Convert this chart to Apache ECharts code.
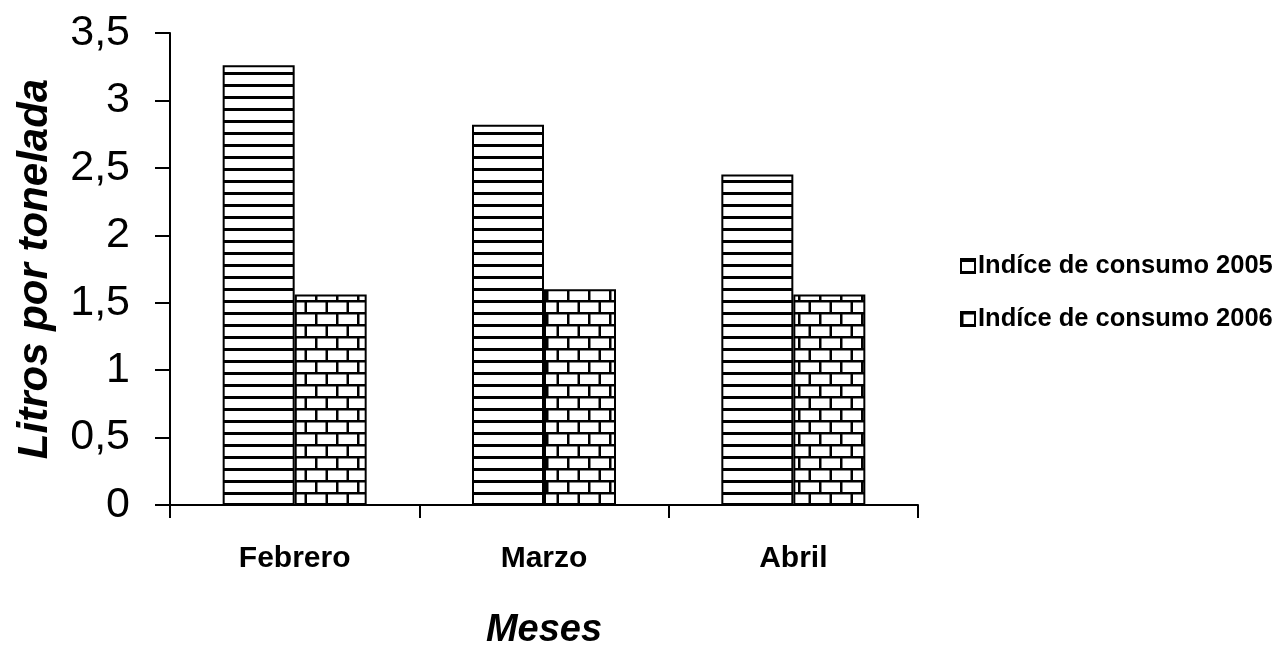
<!DOCTYPE html>
<html><head><meta charset="utf-8">
<script src="https://cdn.jsdelivr.net/npm/echarts@6/dist/echarts.min.js"></script>
<style>html,body{margin:0;padding:0;background:#fff}#c{width:1277px;height:648px}</style>
</head><body><div id="c"></div>
<script>
const categories = ['Febrero', 'Marzo', 'Abril'];
const seriesNames = ['Indíce de consumo 2005', 'Indíce de consumo 2006'];
const values2005 = [3.26, 2.82, 2.45];
const values2006 = [1.56, 1.60, 1.56];
const yTicks = [0, 0.5, 1, 1.5, 2, 2.5, 3, 3.5];

function hLines() {
  const c = document.createElement('canvas');
  c.width = 8; c.height = 12;
  const g = c.getContext('2d');
  g.fillStyle = '#fff'; g.fillRect(0, 0, 8, 12);
  g.fillStyle = '#000'; g.fillRect(0, 0, 8, 3);
  return c;
}
function bricks() {
  const c = document.createElement('canvas');
  c.width = 42; c.height = 24;
  const g = c.getContext('2d');
  g.fillStyle = '#fff'; g.fillRect(0, 0, 42, 24);
  g.fillStyle = '#000';
  g.fillRect(0, 0, 42, 2.5);
  g.fillRect(0, 12, 42, 2.5);
  g.fillRect(0, 0, 2.5, 12);
  g.fillRect(21, 0, 2.5, 12);
  g.fillRect(10.5, 12, 2.5, 12);
  g.fillRect(31.5, 12, 2.5, 12);
  return c;
}
const font = 'Liberation Sans, Arial, sans-serif';
const chart = echarts.init(document.getElementById('c'));
chart.setOption({
  animation: false,
  backgroundColor: '#fff',
  grid: { left: 170, right: 359, top: 33, bottom: 143, containLabel: false, outerBoundsMode: 'none' },
  legend: {
    orient: 'vertical', left: 955, top: 248, itemGap: 27,
    itemWidth: 14, itemHeight: 14, icon: 'rect',
    textStyle: { fontFamily: font, fontSize: 25.5, fontWeight: 'bold', color: '#000', padding: [0, 0, 0, -2] },
    data: seriesNames
  },
  xAxis: {
    type: 'category', data: categories,
    name: 'Meses', nameLocation: 'middle', nameGap: 107,
    nameTextStyle: { fontFamily: font, fontSize: 38, fontWeight: 'bold', fontStyle: 'italic', color: '#000' },
    axisLine: { lineStyle: { color: '#000', width: 2 } },
    axisTick: { show: true, length: 13, lineStyle: { color: '#000', width: 2 } },
    axisLabel: { fontFamily: font, fontSize: 30, fontWeight: 'bold', color: '#000', margin: 39 }
  },
  yAxis: {
    type: 'value', min: 0, max: 3.5, interval: 0.5,
    name: 'Litros por tonelada', nameLocation: 'middle', nameGap: 114,
    nameTextStyle: { fontFamily: font, fontSize: 42, fontWeight: 'bold', fontStyle: 'italic', color: '#000' },
    axisLine: { show: true, lineStyle: { color: '#000', width: 2 } },
    axisTick: { show: true, length: 15, lineStyle: { color: '#000', width: 2 } },
    splitLine: { show: false },
    axisLabel: {
      fontFamily: font, fontSize: 43, color: '#000', margin: 40,
      formatter: v => String(yTicks.find(t => Math.abs(t - v) < 1e-9) ?? v).replace('.', ',')
    }
  },
  series: [
    { name: seriesNames[0], type: 'bar', data: values2005, barWidth: 72, barGap: '0%',
      itemStyle: { color: { image: hLines(), repeat: 'repeat' }, borderColor: '#000', borderWidth: 2 } },
    { name: seriesNames[1], type: 'bar', data: values2006, barWidth: 72, barGap: '0%',
      itemStyle: { color: { image: bricks(), repeat: 'repeat' }, borderColor: '#000', borderWidth: 2 } }
  ]
});
</script></body></html>
